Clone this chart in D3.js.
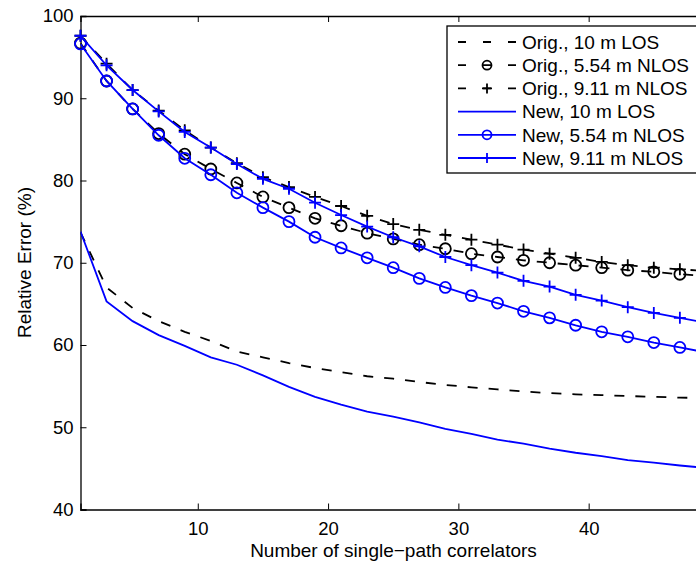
<!DOCTYPE html>
<html><head><meta charset="utf-8">
<script src="https://cdn.jsdelivr.net/npm/d3@7/dist/d3.min.js"></script>
<style>
html,body{margin:0;padding:0;background:#fff;}
svg{display:block;font-family:"Liberation Sans",Arial,sans-serif;}
</style></head>
<body>
<svg id="chart" width="696" height="564"></svg>
<script>
// ---- data ----
const xValues = [1,3,5,7,9,11,13,15,17,19,21,23,25,27,29,31,33,35,37,39,41,43,45,47,49];
const origLOS10   = [73.7,67.0,64.5,62.9,61.6,60.5,59.2,58.5,57.8,57.2,56.7,56.2,55.9,55.5,55.15,54.85,54.6,54.35,54.15,54.0,53.9,53.8,53.7,53.6,53.55];
const origNLOS554 = [96.7,92.1,88.7,85.7,83.2,81.4,79.7,78.0,76.7,75.4,74.5,73.6,72.9,72.2,71.7,71.1,70.7,70.3,70.0,69.7,69.4,69.1,68.9,68.6,68.4];
const origNLOS911 = [97.6,94.2,91.0,88.5,86.1,84.0,82.1,80.4,79.2,78.0,76.9,75.7,74.7,74.0,73.4,72.8,72.2,71.6,71.1,70.6,70.1,69.7,69.4,69.2,69.0];
const newLOS10    = [73.8,65.3,62.9,61.2,59.9,58.5,57.6,56.3,54.9,53.7,52.75,51.9,51.3,50.6,49.8,49.2,48.5,48.0,47.4,46.9,46.5,46.0,45.7,45.35,45.05];
const newNLOS554  = [96.6,92.1,88.7,85.5,82.7,80.7,78.5,76.7,75.0,73.1,71.8,70.6,69.4,68.1,67.0,66.0,65.1,64.1,63.3,62.4,61.6,61.0,60.3,59.7,59.1];
const newNLOS911  = [97.6,94.0,91.0,88.4,85.9,84.0,82.0,80.2,79.0,77.3,75.8,74.4,73.1,72.0,70.7,69.7,68.8,67.8,67.1,66.1,65.4,64.6,63.9,63.3,62.7];
const xTicks = [10,20,30,40];
const yTicks = [40,50,60,70,80,90,100];
const seriesNames = ["Orig., 10 m LOS","Orig., 5.54 m NLOS","Orig., 9.11 m NLOS","New, 10 m LOS","New, 5.54 m NLOS","New, 9.11 m NLOS"];
const xLabel = "Number of single\u2212path correlators";
const yLabel = "Relative Error (%)";

const series = [
  {name: seriesNames[0], values: origLOS10,   color: "#000", dash: "10,11", marker: null},
  {name: seriesNames[1], values: origNLOS554, color: "#000", dash: "10,11", marker: "circle"},
  {name: seriesNames[2], values: origNLOS911, color: "#000", dash: "10,11", marker: "plus"},
  {name: seriesNames[3], values: newLOS10,    color: "#0000ff", dash: null, marker: null},
  {name: seriesNames[4], values: newNLOS554,  color: "#0000ff", dash: null, marker: "circle"},
  {name: seriesNames[5], values: newNLOS911,  color: "#0000ff", dash: null, marker: "plus"}
];

const svg = d3.select("#chart");
const L = 80.5, T = 16, B = 509.5, R = 80.5 + 49*13.03;
const x = d3.scaleLinear().domain([1,50]).range([L,R]);
const y = d3.scaleLinear().domain([40,100]).range([B,T]);

svg.append("defs").append("clipPath").attr("id","clip")
  .append("rect").attr("x",L).attr("y",T).attr("width",R-L).attr("height",B-T);

// axes frame
const fs = 18.5;
const ax = svg.append("g");
ax.append("g").attr("transform",`translate(0,${B})`)
  .call(d3.axisBottom(x).tickValues(xTicks).tickSize(-6).tickPadding(12).tickFormat(d3.format("d")))
  .call(g=>{g.select(".domain").attr("stroke","#000").attr("stroke-width",1.3);
            g.selectAll("text").attr("font-size",fs).attr("fill","#000").attr("font-family","Liberation Sans, Arial, sans-serif");
            g.selectAll("line").attr("stroke","#000");});
ax.append("g").attr("transform",`translate(0,${T})`)
  .call(d3.axisTop(x).tickValues(xTicks).tickSize(-6).tickFormat(""))
  .call(g=>{g.select(".domain").attr("stroke","#000").attr("stroke-width",1.3);
            g.selectAll("line").attr("stroke","#000");});
ax.append("g").attr("transform",`translate(${L},0)`)
  .call(d3.axisLeft(y).tickValues(yTicks).tickSize(-6).tickPadding(7).tickFormat(d3.format("d")))
  .call(g=>{g.select(".domain").attr("stroke","#000").attr("stroke-width",1.3);
            g.selectAll("text").attr("font-size",fs).attr("fill","#000").attr("font-family","Liberation Sans, Arial, sans-serif");
            g.selectAll("line").attr("stroke","#000");});
ax.append("g").attr("transform",`translate(${R},0)`)
  .call(d3.axisRight(y).tickValues(yTicks).tickSize(-6).tickFormat(""))
  .call(g=>{g.select(".domain").attr("stroke","#000").attr("stroke-width",1.3);});

// labels
svg.append("text").attr("x",393.5).attr("y",557).attr("text-anchor","middle")
  .attr("font-size",19).attr("fill","#000").text(xLabel);
svg.append("text").attr("transform","translate(31,262.5) rotate(-90)").attr("text-anchor","middle")
  .attr("font-size",19).attr("fill","#000").text(yLabel);

// lines
const line = d3.line().x((d,i)=>x(xValues[i])).y(d=>y(d));
const plot = svg.append("g");
function drawMarker(g, type, cx, cy, color, size){
  if(type==="circle"){
    g.append("circle").attr("cx",cx).attr("cy",cy).attr("r",size)
      .attr("fill","none").attr("stroke",color).attr("stroke-width",1.8);
  } else if(type==="plus"){
    g.append("path").attr("d",`M${cx-size},${cy}H${cx+size}M${cx},${cy-size}V${cy+size}`)
      .attr("stroke",color).attr("stroke-width",1.8).attr("fill","none");
  }
}
series.forEach(s=>{
  const g = plot.append("g");
  g.append("path").datum(s.values).attr("d",line).attr("clip-path","url(#clip)")
    .attr("fill","none").attr("stroke",s.color).attr("stroke-width",1.8)
    .attr("stroke-dasharray",s.dash);
  if(s.marker){
    s.values.forEach((v,i)=>{ drawMarker(g, s.marker, x(xValues[i]), y(v), s.color, s.marker==="circle"?5.5:6); });
  }
});

// legend
const lg = svg.append("g");
lg.append("rect").attr("x",447).attr("y",26).attr("width",280).attr("height",147)
  .attr("fill","#fff").attr("stroke","#000").attr("stroke-width",1.3);
series.forEach((s,i)=>{
  const cy = 42 + i*23.2;
  lg.append("line").attr("x1",458).attr("x2",516).attr("y1",cy).attr("y2",cy)
    .attr("stroke",s.color).attr("stroke-width",1.8).attr("stroke-dasharray", s.dash ? "8,17" : null);
  if(s.marker) drawMarker(lg, s.marker, 487, cy, s.color, s.marker==="circle"?4.5:5);
  lg.append("text").attr("x",522).attr("y",cy+6.8).attr("font-size",19).attr("fill","#000").text(s.name);
});
</script>
</body></html>
